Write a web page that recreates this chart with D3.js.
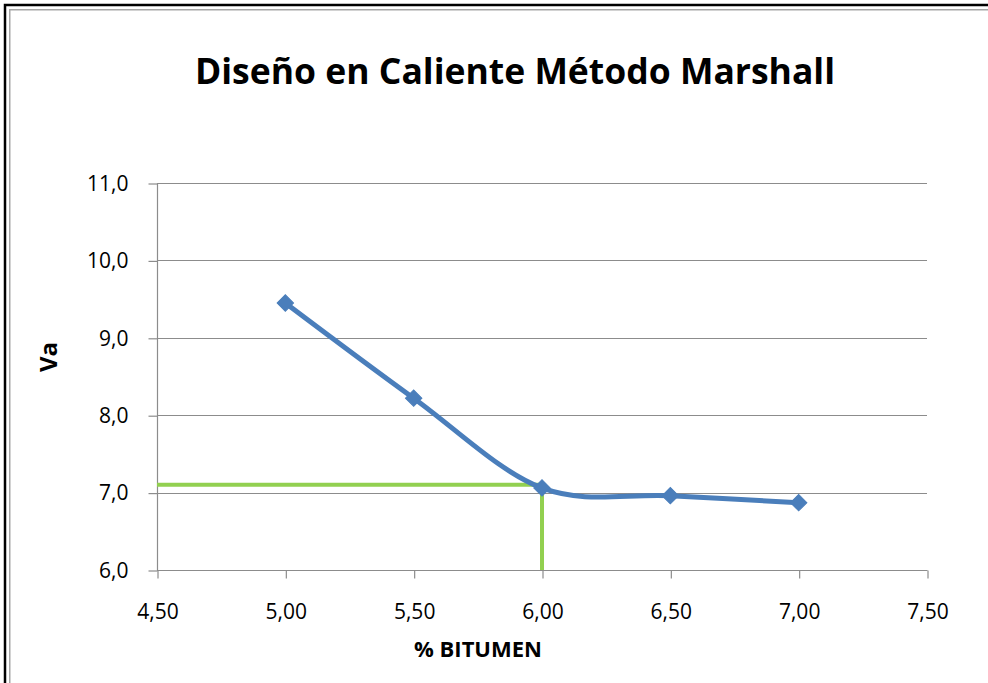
<!DOCTYPE html>
<html>
<head>
<meta charset="utf-8">
<script src="https://cdn.jsdelivr.net/npm/d3@7/dist/d3.min.js"></script>
<style>
  html, body { margin: 0; padding: 0; background: #fff; overflow: hidden; }
  svg { display: block; font-family: "Open Sans", Lato, sans-serif; }
</style>
</head>
<body>
<svg id="chart" width="988" height="683"></svg>
<script>
// Marshall mix design: air voids (Va) versus bitumen content
const bitumen = [5.00, 5.50, 6.00, 6.50, 7.00];
const va = [9.45, 8.22, 7.06, 6.96, 6.87];
const xTicks = [4.5, 5.0, 5.5, 6.0, 6.5, 7.0, 7.5];
const yTicks = [6, 7, 8, 9, 10, 11];
const optimumBitumen = 6.00;
const optimumVa = 7.1;

(function draw() {
  const svg = d3.select("#chart");
  const W = 988, H = 683;
  const plotLeft = 157, plotRight = 927, plotTop = 183, plotBottom = 570;
  const font = "'Open Sans', Lato, sans-serif";

  // outer frame (left and top edges only fall inside the view)
  svg.append("path").attr("d", `M5,${H + 5}V5H${W + 5}`)
    .attr("fill", "none").attr("stroke", "#000").attr("stroke-width", 2.5);
  svg.append("path").attr("d", `M9.75,${H + 5}V9.75H${W + 5}`)
    .attr("fill", "none").attr("stroke", "#a6a6a6").attr("stroke-width", 1.5);

  const x = d3.scaleLinear().domain([4.5, 7.5]).range([plotLeft, plotRight]);
  const y = d3.scaleLinear().domain([6, 11]).range([plotBottom, plotTop]);

  const fmt2 = d => d3.format(".2f")(d).replace(".", ",");
  const fmt1 = d => d3.format(".1f")(d).replace(".", ",");

  // title
  svg.append("text").attr("x", 515).attr("y", 84).attr("text-anchor", "middle")
    .attr("font-family", font).attr("font-size", 35.5).attr("font-weight", "bold").attr("fill", "#000")
    .text("Diseño en Caliente Método Marshall");

  // horizontal gridlines
  svg.append("g").selectAll("line").data(yTicks).join("line")
    .attr("x1", plotLeft).attr("x2", plotRight)
    .attr("y1", d => Math.round(y(d)) + 0.5).attr("y2", d => Math.round(y(d)) + 0.5)
    .attr("stroke", "#8c8c8c").attr("stroke-width", 1.2);

  // y axis
  const yAxis = d3.axisLeft(y).tickValues(yTicks).tickFormat(fmt1).tickSize(9).tickPadding(20);
  const gy = svg.append("g").attr("transform", `translate(${plotLeft + 0.5},0.5)`).call(yAxis);
  gy.attr("font-family", font).attr("font-size", 21);
  gy.select(".domain").attr("stroke", "#8c8c8c").attr("stroke-width", 1.2).attr("d", `M0,${plotTop}V${plotBottom}`);
  gy.selectAll(".tick line").attr("stroke", "#8c8c8c").attr("stroke-width", 1.2);
  gy.selectAll(".tick text").attr("fill", "#000");

  // x axis
  const xAxis = d3.axisBottom(x).tickValues(xTicks).tickFormat(fmt2).tickSize(8).tickPadding(26);
  const gx = svg.append("g").attr("transform", `translate(0.5,${plotBottom + 0.5})`).call(xAxis);
  gx.attr("font-family", font).attr("font-size", 21);
  gx.select(".domain").attr("stroke", "#8c8c8c").attr("stroke-width", 1.2).attr("d", `M${plotLeft},0H${plotRight}`);
  gx.selectAll(".tick line").attr("stroke", "#8c8c8c").attr("stroke-width", 1.2);
  gx.selectAll(".tick text").attr("fill", "#000");

  // axis titles
  svg.append("text").attr("x", 478).attr("y", 657).attr("text-anchor", "middle")
    .attr("font-family", font).attr("font-size", 22).attr("font-weight", "bold").text("% BITUMEN");
  svg.append("text").attr("transform", "translate(57,357) rotate(-90)").attr("text-anchor", "middle")
    .attr("font-family", font).attr("font-size", 24).attr("font-weight", "bold").text("Va");

  // optimum reference lines
  svg.append("path")
    .attr("d", `M${x(4.5)},${y(optimumVa)}H${x(optimumBitumen)}V${y(6)}`)
    .attr("fill", "none").attr("stroke", "#92d050").attr("stroke-width", 4);

  // smoothed series line
  const pts = bitumen.map((b, i) => [b, va[i]]);
  svg.append("path").datum(pts)
    .attr("d", d3.line().x(d => x(d[0])).y(d => y(d[1])).curve(d3.curveCardinal.tension(0)))
    .attr("fill", "none").attr("stroke", "#4a7ebb").attr("stroke-width", 5)
    .attr("stroke-linejoin", "round");

  // diamond markers
  svg.append("g").selectAll("path").data(pts).join("path")
    .attr("transform", d => `translate(${x(d[0])},${y(d[1])}) rotate(45)`)
    .attr("d", "M-5.8,-5.8H5.8V5.8H-5.8Z")
    .attr("fill", "#4a7ebb").attr("stroke", "#4a7ebb").attr("stroke-width", 1);
})();
</script>
</body>
</html>
